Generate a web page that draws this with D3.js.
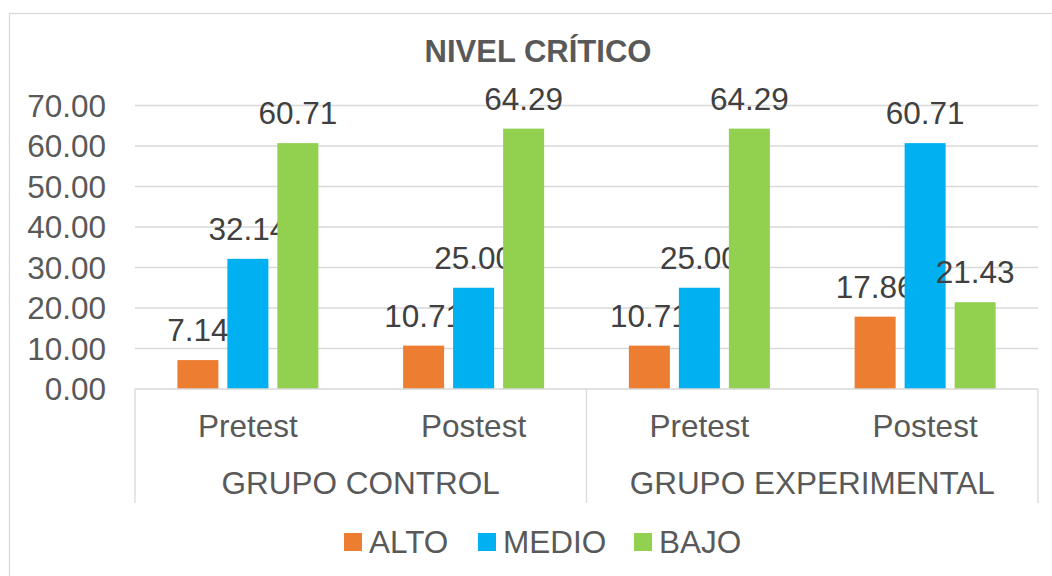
<!DOCTYPE html>
<html><head><meta charset="utf-8">
<script src="https://cdn.jsdelivr.net/npm/d3@7"></script>
<style>body{margin:0;background:#fff}svg{display:block;font-family:"Liberation Sans",Arial,sans-serif}</style>
</head><body>
<svg id="c" width="1052" height="576"></svg>
<script>
const title = "NIVEL CRÍTICO";
const groups = ["GRUPO CONTROL", "GRUPO EXPERIMENTAL"];
const phases = ["Pretest", "Postest"];
const series = ["ALTO", "MEDIO", "BAJO"];
const colors = ["#ED7D31", "#00B0F0", "#92D050"];
const alto  = [7.14, 10.71, 10.71, 17.86];
const medio = [32.14, 25.00, 25.00, 60.71];
const bajo  = [60.71, 64.29, 64.29, 21.43];
const yTicks = [0, 10, 20, 30, 40, 50, 60, 70];

(function () {
const values = [alto, medio, bajo];
const cats = [];
groups.forEach(g => phases.forEach(p => cats.push(g + "|" + p)));

const svg = d3.select("#c");
const pL = 135, pR = 1038, pT = 105.5, pB = 389;
const FS = 31.5;

svg.append("rect").attr("x", 9.5).attr("y", 13.5).attr("width", 1100).attr("height", 600)
  .attr("fill", "#fff").attr("stroke", "#D9D9D9").attr("stroke-width", 1.3);

const x0 = d3.scaleBand().domain(cats).range([pL, pR]).paddingInner(0).paddingOuter(0);
const x1 = d3.scaleBand().domain(series).range([0, x0.bandwidth()]).paddingInner(0.18).paddingOuter(0.8475);
const y = d3.scaleLinear().domain([0, 70]).range([pB, pT]);

svg.append("g").selectAll("line").data(yTicks.filter(d => d > 0)).join("line")
  .attr("x1", pL).attr("x2", pR).attr("y1", d => y(d)).attr("y2", d => y(d))
  .attr("stroke", "#D9D9D9").attr("stroke-width", 1.3);

svg.append("g").selectAll("text").data(yTicks).join("text")
  .attr("x", 106).attr("y", d => y(d)).attr("dy", "0.36em").attr("text-anchor", "end")
  .attr("font-size", FS).attr("fill", "#595959").text(d => d3.format(".2f")(d));

series.forEach((s, si) => {
  const g = svg.append("g");
  g.selectAll("rect").data(values[si]).join("rect")
    .attr("x", (d, i) => x0(cats[i]) + x1(s)).attr("width", x1.bandwidth())
    .attr("y", d => y(d)).attr("height", d => y(0) - y(d)).attr("fill", colors[si]);
  g.selectAll("text").data(values[si]).join("text")
    .attr("x", (d, i) => x0(cats[i]) + x1(s) + x1.bandwidth() / 2)
    .attr("y", d => y(d) - 19).attr("text-anchor", "middle")
    .attr("font-size", FS).attr("fill", "#404040").text(d => d3.format(".2f")(d));
});

const axisC = "#D9D9D9";
svg.append("line").attr("x1", pL).attr("x2", pR).attr("y1", pB).attr("y2", pB)
  .attr("stroke", axisC).attr("stroke-width", 1.3);
const groupEdges = [pL, x0(cats[2]), pR];
svg.append("g").selectAll("line").data(groupEdges).join("line")
  .attr("x1", d => d).attr("x2", d => d).attr("y1", pB).attr("y2", 503)
  .attr("stroke", axisC).attr("stroke-width", 1.3);

svg.append("g").selectAll("text").data(cats).join("text")
  .attr("x", d => x0(d) + x0.bandwidth() / 2).attr("y", 437).attr("text-anchor", "middle")
  .attr("font-size", FS).attr("fill", "#595959").text(d => d.split("|")[1]);
svg.append("g").selectAll("text").data(groups).join("text")
  .attr("x", (d, i) => (groupEdges[i] + groupEdges[i + 1]) / 2).attr("y", 493.5).attr("text-anchor", "middle")
  .attr("font-size", FS).attr("fill", "#595959").text(d => d);

svg.append("text").attr("x", 538).attr("y", 62).attr("text-anchor", "middle")
  .attr("font-size", 31).attr("font-weight", "bold").attr("fill", "#595959").text(title);

const legX = [344, 478, 634];
const lg = svg.append("g");
series.forEach((s, i) => {
  lg.append("rect").attr("x", legX[i]).attr("y", 533).attr("width", 18).attr("height", 18).attr("fill", colors[i]);
  lg.append("text").attr("x", legX[i] + 25).attr("y", 553).attr("font-size", FS).attr("fill", "#595959").text(s);
});
})();
</script>
</body></html>
